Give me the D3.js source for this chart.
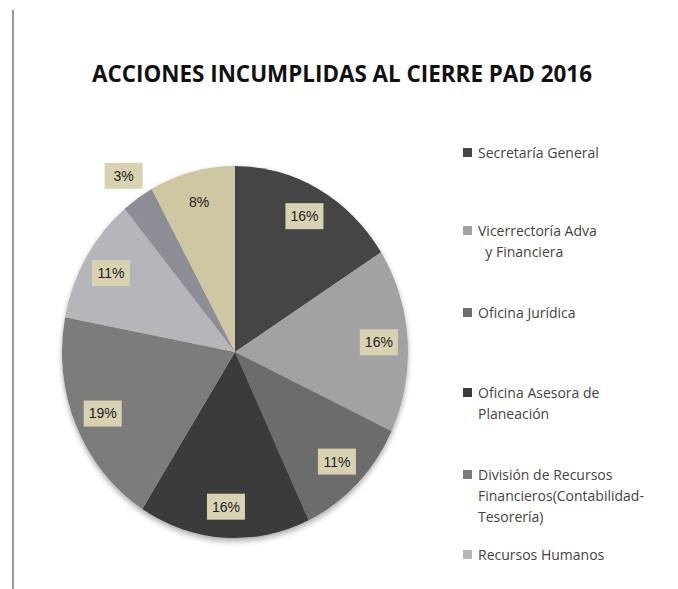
<!DOCTYPE html>
<html>
<head>
<meta charset="utf-8">
<script src="https://cdn.jsdelivr.net/npm/d3@7"></script>
<style>
  body { margin: 0; background: #fff; }
  svg { display: block; }
</style>
</head>
<body>
<svg id="chart" width="678" height="589"></svg>
<script>
// data, clockwise from 12 o'clock
var shares = [16, 16, 11, 16, 19, 11, 3, 8];
var sliceColors = ["#454545", "#a2a2a2", "#6c6c6c", "#3b3b3b", "#7b7b7b", "#b6b6ba", "#8d8d95", "#cfc7a4"];
// only the first six legend entries fit in the frame
var legendLines = [
    ["Secretaría General"],
    ["Vicerrectoría Adva", "  y Financiera"],
    ["Oficina Jurídica"],
    ["Oficina Asesora de", "Planeación"],
    ["División de Recursos", "Financieros(Contabilidad-", "Tesorería)"],
    ["Recursos Humanos"]
];
var legendY = [153, 231, 313, 393, 475, 555];
var titleText = "ACCIONES INCUMPLIDAS AL CIERRE PAD 2016";

var svg = d3.select("#chart");
var cx = 235, cy = 352, r = 186, sx = 173 / 186;

// frame line on the left
svg.append("line")
    .attr("x1", 13).attr("x2", 13)
    .attr("y1", 10).attr("y2", 589)
    .attr("stroke", "#999").attr("stroke-width", 2);

svg.append("text")
    .attr("x", 342).attr("y", 82)
    .attr("text-anchor", "middle")
    .attr("font-family", "'Open Sans', sans-serif")
    .attr("font-weight", "bold")
    .attr("font-size", 24)
    .attr("textLength", 500)
    .attr("lengthAdjust", "spacingAndGlyphs")
    .attr("fill", "#111")
    .text(titleText);

// soft shadow
var defs = svg.append("defs");
var f = defs.append("filter").attr("id", "shadow")
    .attr("x", "-10%").attr("y", "-10%").attr("width", "120%").attr("height", "125%");
f.append("feGaussianBlur").attr("in", "SourceAlpha").attr("stdDeviation", 3);
f.append("feOffset").attr("dy", 3).attr("result", "b");
f.append("feComponentTransfer").append("feFuncA").attr("type", "linear").attr("slope", 0.35);
var fm = f.append("feMerge");
fm.append("feMergeNode");
fm.append("feMergeNode").attr("in", "SourceGraphic");

var pie = d3.pie().sort(null).value(d => d);
var arcs = pie(shares);
var arc = d3.arc().innerRadius(0).outerRadius(r);

var g = svg.append("g")
    .attr("transform", "translate(" + cx + "," + cy + ") scale(" + sx + ",1)");

g.append("g").attr("filter", "url(#shadow)")
    .selectAll("path")
    .data(arcs)
    .enter()
    .append("path")
    .attr("d", arc)
    .attr("fill", (d, i) => sliceColors[i])
    .attr("stroke", "none");

// labels: inside for normal slices, pushed out for tiny ones
var labelArc = d3.arc().innerRadius(155).outerRadius(155);
var outerArc = d3.arc().innerRadius(213).outerRadius(213);
var labels = svg.append("g")
    .selectAll("g")
    .data(arcs)
    .enter()
    .append("g")
    .attr("transform", function(d) {
        var c = (d.data < 5 ? outerArc : labelArc).centroid(d);
        return "translate(" + (cx + c[0] * sx) + "," + (cy + c[1]) + ")";
    });

labels.append("rect")
    .attr("x", -19).attr("y", -13)
    .attr("width", 38).attr("height", 26)
    .attr("fill", function(d) { return d.index === 7 ? "none" : "#d8d2b2"; });

labels.append("text")
    .attr("text-anchor", "middle")
    .attr("dy", "0.35em")
    .attr("font-family", "'Liberation Sans', Arial, sans-serif")
    .attr("font-size", 14)
    .attr("fill", "#222")
    .text(d => d.data + "%");

// legend
var leg = svg.append("g")
    .selectAll("g")
    .data(legendLines)
    .enter()
    .append("g")
    .attr("transform", (d, i) => "translate(463," + legendY[i] + ")");

leg.append("rect")
    .attr("x", 0).attr("y", -5)
    .attr("width", 9).attr("height", 9)
    .attr("fill", (d, i) => sliceColors[i]);

leg.append("text")
    .attr("font-family", "'Open Sans', sans-serif")
    .attr("font-size", 14)
    .attr("fill", "#444")
    .selectAll("tspan")
    .data(d => d)
    .enter()
    .append("tspan")
    .attr("x", 15)
    .attr("y", (d, j) => j * 21)
    .attr("dy", "0.35em")
    .attr("xml:space", "preserve")
    .text(d => d);
</script>
</body>
</html>
